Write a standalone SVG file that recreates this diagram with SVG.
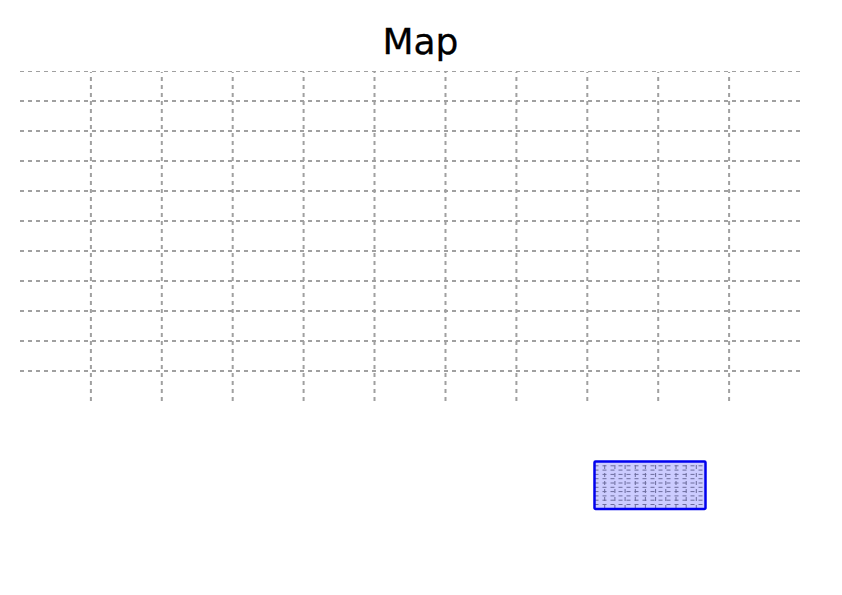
<svg xmlns="http://www.w3.org/2000/svg" width="842" height="595" viewBox="0 0 842 595">
<defs>
<style>
.g{fill:none;stroke:#a0a0a0;stroke-width:2;stroke-dasharray:4 4}
.t{stroke-width:1}
.m{fill:none;stroke:#6c6c9c;stroke-width:1;stroke-dasharray:4 4}
text{font-family:"DejaVu Sans",sans-serif}
</style>
</defs>
<rect width="842" height="595" fill="#fff"/>
<text x="420.500" y="54" font-size="36" text-anchor="middle" stroke="#000" stroke-width=".3">Map</text>
<g id="grid">
<path class="g t" d="M20 71.500H800"/>
<path class="g" d="M20 101H800M20 131H800M20 161H800M20 191H800M20 221H800M20 251H800M20 281H800M20 311H800M20 341H800M20 371H800"/>
<path class="g" d="M90.900 401V72M161.800 401V72M232.700 401V72M303.600 401V72M374.500 401V72M445.500 401V72M516.400 401V72M587.300 401V72M658.200 401V72M729.100 401V72"/>
</g>
<g id="overview">
<rect x="594.500" y="461.500" width="111" height="47.400" fill="#ccccff"/>
<path class="m" d="M594.500 465.800H705.500M594.500 470.100H705.500M594.500 474.400H705.500M594.500 478.700H705.500M594.500 483H705.500M594.500 487.300H705.500M594.500 491.600H705.500M594.500 495.900H705.500M594.500 500.200H705.500M594.500 504.500H705.500"/>
<path class="m" d="M604.700 509V461.500M614.900 509V461.500M625.100 509V461.500M635.300 509V461.500M645.400 509V461.500M655.600 509V461.500M665.800 509V461.500M676 509V461.500M686.200 509V461.500M696.300 509V461.500"/>
<rect x="594.500" y="461.500" width="111" height="47.400" fill="none" stroke="#0000ee" stroke-width="2.500" rx="1"/>
</g>
</svg>
